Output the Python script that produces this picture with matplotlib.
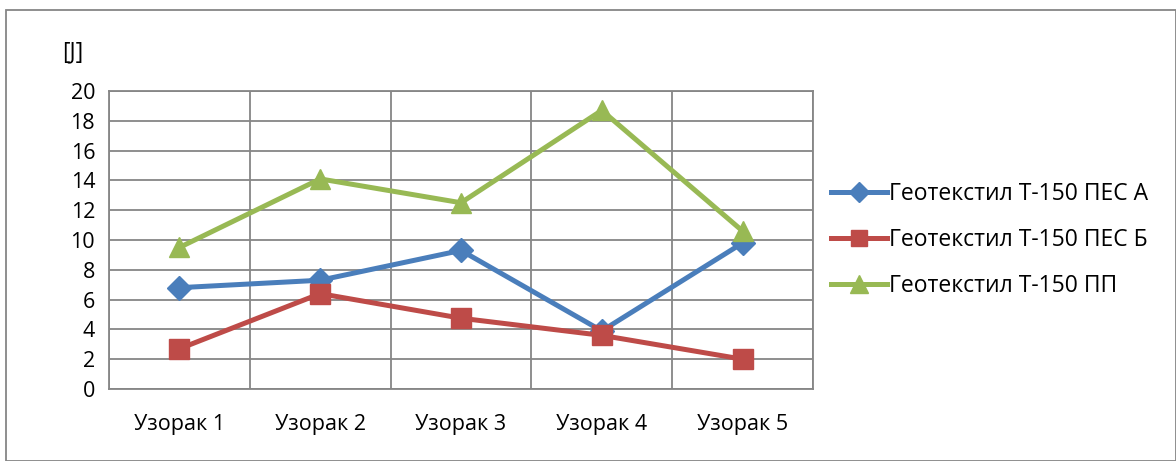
import numpy as np
import matplotlib
matplotlib.use("Agg")
import matplotlib.pyplot as plt
from matplotlib.patches import Rectangle

# Data
categories = ["Узорак 1", "Узорак 2", "Узорак 3", "Узорак 4", "Узорак 5"]
pes_a = [6.8, 7.3, 9.3, 3.9, 9.8]
pes_b = [2.7, 6.4, 4.75, 3.6, 2.0]
pp = [9.5, 14.1, 12.5, 18.7, 10.6]
labels = ["Геотекстил Т-150 ПЕС А", "Геотекстил Т-150 ПЕС Б", "Геотекстил Т-150 ПП"]
y_ticks = np.arange(0, 21, 2)

plt.rcParams["font.family"] = ["Open Sans", "DejaVu Sans"]
FS = 15.5

grid_color = "#868686"
colors = ["#4a7ebb", "#be4b48", "#98b954"]
markers = ["D", "s", "^"]
msizes = [12, 14, 15]

fig = plt.figure(figsize=(11.76, 4.61), dpi=100)
ax = fig.add_axes([109 / 1176, 1 - 389 / 461, (813 - 109) / 1176, (389 - 91) / 461])

x = np.arange(len(categories))
for vals, c, m, ms, lab in zip([pes_a, pes_b, pp], colors, markers, msizes, labels):
    ax.plot(x, vals, color=c, lw=3.6, marker=m, ms=ms, mec=c, mfc=c, label=lab, zorder=3)

ax.set_xlim(-0.5, len(categories) - 0.5)
ax.set_ylim(0, 20)
ax.set_yticks(y_ticks)
ax.set_yticklabels([str(v) for v in y_ticks], fontsize=FS)
ax.set_xticks(x)
ax.set_xticklabels(categories, fontsize=FS)
ax.set_xticks(np.arange(-0.5, len(categories), 1), minor=True)
ax.tick_params(axis="both", which="both", length=0)
ax.tick_params(axis="y", pad=10)
ax.tick_params(axis="x", pad=18)
ax.grid(True, axis="y", which="major", color=grid_color, lw=1.3)
ax.grid(True, axis="x", which="minor", color=grid_color, lw=1.3)
ax.set_axisbelow(True)
for s in ax.spines.values():
    s.set_color(grid_color)
    s.set_linewidth(1.3)

fig.text(73 / 1176, 1 - 52 / 461, "[J]", fontsize=16.5, ha="center", va="center")

fig.legend(loc="center left", bbox_to_anchor=(831 / 1176, 1 - 240 / 461),
           frameon=False, fontsize=16.5, handlelength=2.45, handletextpad=0.1,
           labelspacing=0.95, borderpad=0, borderaxespad=0, markerscale=0.85)

# outer chart border
fig.patches.append(Rectangle((6 / 1176, 0), 1 - 6 / 1176, 1 - 10 / 461,
                             transform=fig.transFigure, fill=False,
                             edgecolor=grid_color, lw=1.3))

fig.savefig("out.png", dpi=100)
